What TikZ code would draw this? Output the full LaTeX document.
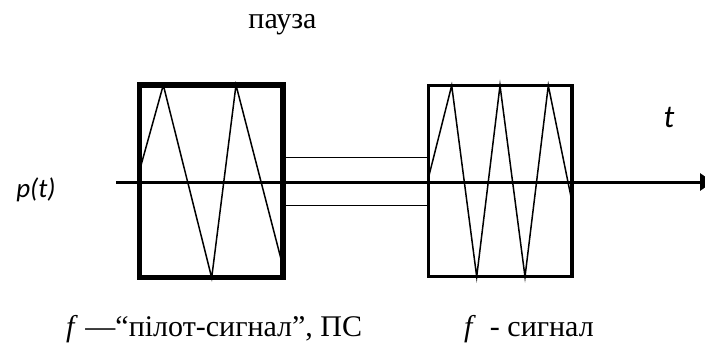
\documentclass[tikz,border=0pt]{standalone}
\usepackage{fontspec}
\setmainfont{Liberation Serif}
\newfontfamily\calibri{Carlito}
\usetikzlibrary{arrows.meta}

\begin{document}
\begin{tikzpicture}[x=1bp,y=-1bp,
  framethick/.style={line width=5.5bp},
  framethin/.style={line width=3.5bp},
  wave/.style={line width=1.5bp, line join=miter},
  pauseline/.style={line width=1.6bp},
  axisline/.style={line width=3bp, -{Triangle[length=13bp,width=17bp]}},
  lbl/.style={inner sep=0pt, font=\fontsize{30bp}{36bp}\selectfont},
  sanslbl/.style={inner sep=0pt, font=\calibri\itshape\fontsize{27bp}{32bp}\selectfont},
]
\useasboundingbox (0,0) rectangle (705,349);

% pilot-signal frame
\coordinate (pa) at (139.7,85);
\coordinate (pb) at (283,277.7);
% signal frame
\coordinate (sa) at (428.7,85.5);
\coordinate (sb) at (572,276.7);

% pause channel between the frames
\coordinate (gu1) at (283,157.5);
\coordinate (gu2) at (428.7,157.5);
\coordinate (gl1) at (283,205.3);
\coordinate (gl2) at (428.7,205.3);
\draw[pauseline] (gu1) -- (gu2);
\draw[pauseline] (gl1) -- (gl2);

% oscillations inside the frames
\draw[wave] (139.7,170) -- (163.3,85) -- (211.7,277.7) -- (236,85) -- (283,266.7);
\draw[wave] (428.7,176.7) -- (451.7,85.5) -- (476.7,276.7) -- (500,85.5)
  -- (525,276.7) -- (548.3,85.5) -- (572,201.7);

\draw[framethick] (pa) rectangle (pb);
\draw[framethin] (sa) rectangle (sb);

% time axis
\coordinate (ax0) at (116,182);
\coordinate (ax1) at (713,182);
\draw[axisline] (ax0) -- (ax1);

% labels
\node[lbl, anchor=base] (pause) at (282.5,28.3) {пауза};
\node[lbl, anchor=base west] (pilot) at (66,336) {\textit{f} —“пілот-сигнал”, ПС};
\node[lbl, anchor=base west] (sig) at (464,336) {\textit{f}\hspace{14bp}- сигнал};
\node[sanslbl] (pt) at (36,190) {p(t)};
\node[sanslbl, font=\calibri\itshape\fontsize{32bp}{38bp}\selectfont] (tt) at (669,117) {t};
\end{tikzpicture}
\end{document}
